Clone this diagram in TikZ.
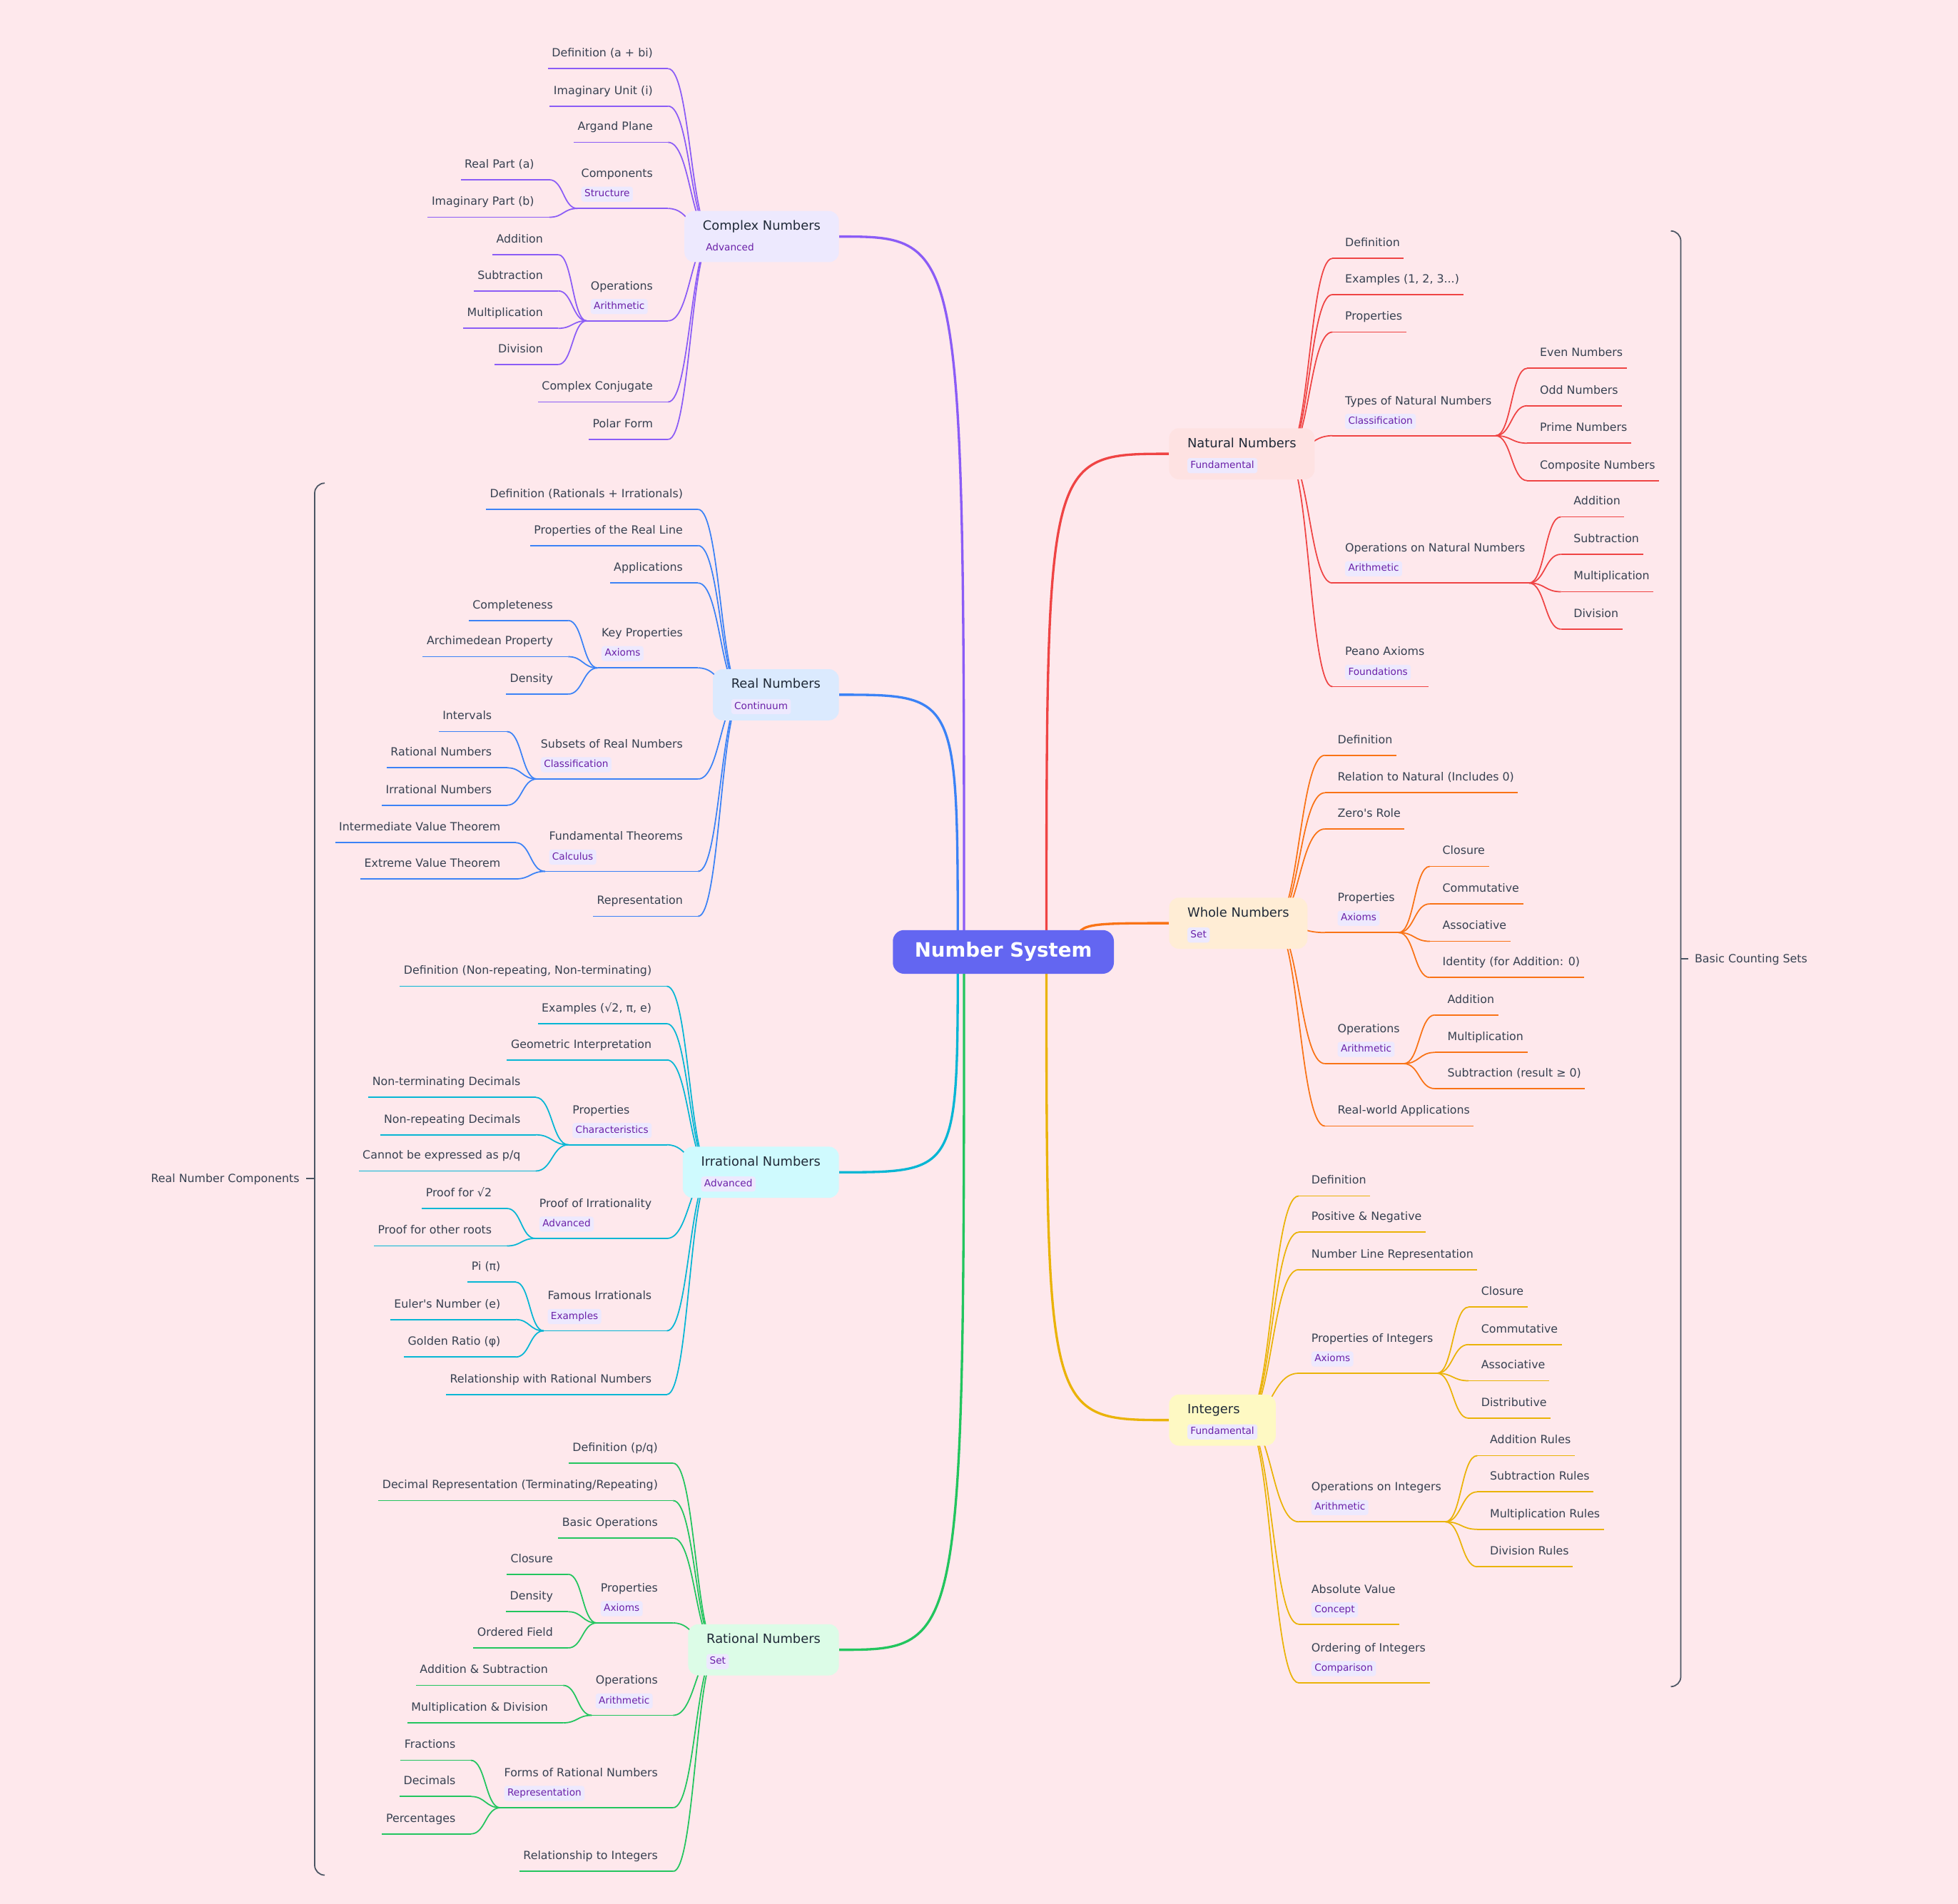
\documentclass[tikz,border=0pt]{standalone}
\usepackage{fontspec}
\setmainfont{DejaVu Sans}
\newfontfamily\dv{DejaVu Sans}
\usetikzlibrary{calc}
\pgfdeclarelayer{bgl}
\pgfdeclarelayer{links}
\pgfsetlayers{bgl,links,main}

\definecolor{bgc}{HTML}{FEE8EC}
\definecolor{rootc}{HTML}{6366F1}
\definecolor{cxc}{HTML}{8B5CF6}
\definecolor{rec}{HTML}{3B82F6}
\definecolor{irc}{HTML}{06B6D4}
\definecolor{rac}{HTML}{22C55E}
\definecolor{nac}{HTML}{EF4444}
\definecolor{whc}{HTML}{F97316}
\definecolor{itc}{HTML}{EAB308}
\definecolor{cxf}{HTML}{EDE9FE}
\definecolor{ref}{HTML}{DBEAFE}
\definecolor{irf}{HTML}{CFFAFE}
\definecolor{raf}{HTML}{DCFCE7}
\definecolor{naf}{HTML}{FEE2E2}
\definecolor{whf}{HTML}{FFEDD5}
\definecolor{itf}{HTML}{FEF9C3}
\definecolor{badgefill}{HTML}{EDE9FE}
\definecolor{badgetext}{HTML}{6B21A8}
\definecolor{leaftext}{HTML}{374151}
\definecolor{titletext}{HTML}{1F2937}
\definecolor{bracec}{HTML}{4B5563}

\newcommand\lfont{\dv\fontsize{9.05}{10}\selectfont}
\newcommand\bfont{\dv\fontsize{7.8}{9}\selectfont}
\newcommand\tfont{\dv\fontsize{10.2}{12}\selectfont}
\newcommand\rfont{\dv\bfseries\fontsize{15.8}{18}\selectfont}

\tikzset{
  leaf/.style={font=\lfont,text=leaftext,inner sep=0pt},
  ttl/.style={font=\lfont,text=leaftext,inner sep=0pt,anchor=base west,text height=7pt,text depth=2pt},
  bdg/.style={font=\bfont,text=badgetext,fill=badgefill,rounded corners=2pt,inner xsep=2.5pt,inner ysep=2.3pt,text height=5.8pt,text depth=1.7pt},
  ul/.style={line width=1pt},
  lk/.style={line width=1pt},
  rlk/.style={line width=1.9pt},
  brace/.style={line width=1pt,draw=bracec},
  bracelabel/.style={font=\lfont,text=leaftext,inner sep=0pt}
}

% right plain leaf: name, text-left x, underline y, text, colour
\newcommand\RL[5]{%
  \node[leaf,anchor=base west] (#1) at (#2,#3-9.5) {#4};
  \coordinate (#1-s) at (#2-10,#3);
  \coordinate (#1-e) at ([shift={(3,9.5)}]#1.base east);
  \draw[ul,#5] (#1-s) -- (#1-e);}
% left plain leaf: name, text-right x, underline y, text, colour
\newcommand\LL[5]{%
  \node[leaf,anchor=base east] (#1) at (#2,#3-9.5) {#4};
  \coordinate (#1-s) at (#2+12,#3);
  \coordinate (#1-e) at ([shift={(-3,9.5)}]#1.base west);
  \draw[ul,#5] (#1-s) -- (#1-e);}
% right node with badge: name, text-left x, underline y, title, badge, colour
\newcommand\RB[6]{%
  \matrix[anchor=south west,inner sep=0pt,row sep=5.4pt] (#1-m) at (#2,#3-5.2) {
    \node[ttl] (#1) {#4}; \\
    \node[bdg,anchor=base west] (#1-b) {#5}; \\
  };
  \coordinate (#1-s) at (#2-10,#3);
  \coordinate (#1-t) at (#1-m.east |- #1-s);
  \coordinate (#1-e) at ([xshift=3pt]#1-t);
  \draw[ul,#6] (#1-s) -- (#1-e);}
% left node with badge: name, block-right x, underline y, title, badge, colour
\newcommand\LB[6]{%
  \matrix[anchor=south east,inner sep=0pt,row sep=5.4pt] (#1-m) at (#2,#3-5.2) {
    \node[ttl] (#1) {#4}; \\
    \node[bdg,anchor=base west] (#1-b) {#5}; \\
  };
  \coordinate (#1-s) at (#2+12,#3);
  \coordinate (#1-t) at (#1-m.west |- #1-s);
  \coordinate (#1-e) at ([xshift=-3pt]#1-t);
  \draw[ul,#6] (#1-s) -- (#1-e);}
% first level box: name, anchor, x, y, title, badge, fill
\newcommand\LO[7]{%
  \matrix[anchor=#2,fill=#7,rounded corners=8pt,inner xsep=14.7pt,inner ysep=5pt,row sep=6.3pt] (#1) at (#3,#4) {
    \node[font=\tfont,text=titletext,inner sep=0pt,anchor=base west,text height=10.4pt,text depth=2.2pt] (#1-t) {#5}; \\
    \node[bdg,anchor=base west] (#1-b) {#6}; \\
  };}
% links
\newcommand\lk[3]{\draw[lk,#3] let \p1=(#1),\p2=(#2) in (\p1) .. controls ({(\x1+\x2)/2},\y1) and ({(\x1+\x2)/2},\y2) .. (\p2);}
\newcommand\rlk[3]{\draw[rlk,#3] let \p1=(#1),\p2=(#2) in (\p1) .. controls (\x1,\y2) and (\x1,\y2) .. (\p2);}

\begin{document}
\begin{tikzpicture}[x=1pt,y=-1pt]
\useasboundingbox (0,0) rectangle (1568,1525);
\begin{pgfonlayer}{bgl}
\fill[bgc] (0,0) rectangle (1568,1525);
\end{pgfonlayer}

% root
\node[fill=rootc,rounded corners=9pt,minimum width=177pt,minimum height=35pt,text=white,font=\rfont,inner sep=0pt] (root) at (803.5,762.5) {Number System};
\coordinate (o1) at (772,762);
\coordinate (o2) at (767,762);
\coordinate (o3) at (767,763);
\coordinate (o4) at (772,763);
\coordinate (o5) at (838,762);
\coordinate (o6) at (862,762);
\coordinate (o7) at (838,763);

% first level boxes
\LO{cx}{east}{672}{189.5}{Complex Numbers}{Advanced}{cxf}
\LO{re}{east}{672}{556.5}{Real Numbers}{Continuum}{ref}
\LO{ir}{east}{672}{939}{Irrational Numbers}{Advanced}{irf}
\LO{ra}{east}{672}{1321.5}{Rational Numbers}{Set}{raf}
\LO{na}{west}{936}{363.5}{Natural Numbers}{Fundamental}{naf}
\LO{wh}{west}{936}{739.5}{Whole Numbers}{Set}{whf}
\LO{it}{west}{936}{1137.5}{Integers}{Fundamental\hspace{3pt}}{itf}
\coordinate (cxO) at (571,189.5);
\coordinate (reO) at (595,556.5);
\coordinate (irO) at (570,939);
\coordinate (raO) at (575,1321.5);
\coordinate (naO) at (1030,363.5);
\coordinate (whO) at (1020,739.5);
\coordinate (itO) at (997,1137.5);

% Natural numbers
\RL{n1}{1077}{207}{Definition}{nac}
\RL{n2}{1077}{236}{Examples (1, 2, 3...)}{nac}
\RL{n3}{1077}{266}{Properties}{nac}
\RB{n4}{1077}{349}{Types of Natural Numbers}{Classification}{nac}
\RL{n4a}{1233}{295}{Even Numbers}{nac}
\RL{n4b}{1233}{325}{Odd Numbers}{nac}
\RL{n4c}{1233}{355}{Prime Numbers}{nac}
\RL{n4d}{1233}{385}{Composite Numbers}{nac}
\RB{n5}{1077}{467}{Operations on Natural Numbers}{Arithmetic}{nac}
\RL{n5a}{1260}{414}{Addition}{nac}
\RL{n5b}{1260}{444}{Subtraction}{nac}
\RL{n5c}{1260}{474}{Multiplication}{nac}
\RL{n5d}{1260}{504}{Division}{nac}
\RB{n6}{1077}{550}{Peano Axioms}{Foundations}{nac}

% Whole numbers
\RL{w1}{1071}{605}{Definition}{whc}
\RL{w2}{1071}{635}{Relation to Natural (Includes 0)}{whc}
\RL{w3}{1071}{664}{Zero's Role}{whc}
\RB{w4}{1071}{747}{Properties}{Axioms}{whc}
\RL{w4a}{1155}{694}{Closure}{whc}
\RL{w4b}{1155}{724}{Commutative}{whc}
\RL{w4c}{1155}{754}{Associative}{whc}
\RL{w4d}{1155}{783}{Identity (for Addition: 0)}{whc}
\RB{w5}{1071}{852}{Operations}{Arithmetic}{whc}
\RL{w5a}{1159}{813}{Addition}{whc}
\RL{w5b}{1159}{843}{Multiplication}{whc}
\RL{w5c}{1159}{872}{Subtraction (result ≥ 0)}{whc}
\RL{w6}{1071}{902}{Real-world Applications}{whc}

% Integers
\RL{i1}{1050}{958}{Definition}{itc}
\RL{i2}{1050}{987}{Positive \& Negative}{itc}
\RL{i3}{1050}{1017}{Number Line Representation}{itc}
\RB{i4}{1050}{1100}{Properties of Integers}{Axioms}{itc}
\RL{i4a}{1186}{1047}{Closure}{itc}
\RL{i4b}{1186}{1077}{Commutative}{itc}
\RL{i4c}{1186}{1106}{Associative}{itc}
\RL{i4d}{1186}{1136}{Distributive}{itc}
\RB{i5}{1050}{1219}{Operations on Integers}{Arithmetic}{itc}
\RL{i5a}{1193}{1166}{Addition Rules}{itc}
\RL{i5b}{1193}{1195}{Subtraction Rules}{itc}
\RL{i5c}{1193}{1225}{Multiplication Rules}{itc}
\RL{i5d}{1193}{1255}{Division Rules}{itc}
\RB{i6}{1050}{1301}{Absolute Value}{Concept}{itc}
\RB{i7}{1050}{1348}{Ordering of Integers}{Comparison}{itc}

% Complex numbers
\LL{c1}{523}{55}{Definition (a + bi)}{cxc}
\LL{c2}{523}{85}{Imaginary Unit (i)}{cxc}
\LL{c3}{523}{114}{Argand Plane}{cxc}
\LB{c4}{523}{167}{Components}{Structure}{cxc}
\LL{c4a}{428}{144}{Real Part (a)}{cxc}
\LL{c4b}{428}{174}{Imaginary Part (b)}{cxc}
\LB{c5}{523}{257}{Operations}{Arithmetic}{cxc}
\LL{c5a}{435}{204}{Addition}{cxc}
\LL{c5b}{435}{233}{Subtraction}{cxc}
\LL{c5c}{435}{263}{Multiplication}{cxc}
\LL{c5d}{435}{292}{Division}{cxc}
\LL{c6}{523}{322}{Complex Conjugate}{cxc}
\LL{c7}{523}{352}{Polar Form}{cxc}

% Real numbers
\LL{r1}{547}{408}{Definition (Rationals + Irrationals)}{rec}
\LL{r2}{547}{437}{Properties of the Real Line}{rec}
\LL{r3}{547}{467}{Applications}{rec}
\LB{r4}{547}{535}{Key Properties}{Axioms}{rec}
\LL{r4a}{443}{497}{Completeness}{rec}
\LL{r4b}{443}{526}{Archimedean Property}{rec}
\LL{r4c}{443}{556}{Density}{rec}
\LB{r5}{547}{624}{Subsets of Real Numbers}{Classification}{rec}
\LL{r5a}{394}{586}{Intervals}{rec}
\LL{r5b}{394}{615}{Rational Numbers}{rec}
\LL{r5c}{394}{645}{Irrational Numbers}{rec}
\LB{r6}{547}{698}{Fundamental Theorems}{Calculus}{rec}
\LL{r6a}{401}{675}{Intermediate Value Theorem}{rec}
\LL{r6b}{401}{704}{Extreme Value Theorem}{rec}
\LL{r7}{547}{734}{Representation}{rec}

% Irrational numbers
\LL{q1}{522}{790}{Definition (Non-repeating, Non-terminating)}{irc}
\LL{q2}{522}{820}{Examples (√2, π, e)}{irc}
\LL{q3}{522}{849}{Geometric Interpretation}{irc}
\LB{q4}{522}{917}{Properties}{Characteristics}{irc}
\LL{q4a}{417}{879}{Non-terminating Decimals}{irc}
\LL{q4b}{417}{909}{Non-repeating Decimals}{irc}
\LL{q4c}{417}{938}{Cannot be expressed as p/q}{irc}
\LB{q5}{522}{992}{Proof of Irrationality}{Advanced}{irc}
\LL{q5a}{394}{968}{Proof for √2}{irc}
\LL{q5b}{394}{998}{Proof for other roots}{irc}
\LB{q6}{522}{1066}{Famous Irrationals}{Examples}{irc}
\LL{q6a}{401}{1027}{Pi (π)}{irc}
\LL{q6b}{401}{1057}{Euler's Number (e)}{irc}
\LL{q6c}{401}{1087}{Golden Ratio (φ)}{irc}
\LL{q7}{522}{1117}{Relationship with Rational Numbers}{irc}

% Rational numbers
\LL{p1}{527}{1172}{Definition (p/q)}{rac}
\LL{p2}{527}{1202}{Decimal Representation (Terminating/Repeating)}{rac}
\LL{p3}{527}{1232}{Basic Operations}{rac}
\LB{p4}{527}{1300}{Properties}{Axioms}{rac}
\LL{p4a}{443}{1261}{Closure}{rac}
\LL{p4b}{443}{1291}{Density}{rac}
\LL{p4c}{443}{1320}{Ordered Field}{rac}
\LB{p5}{527}{1374}{Operations}{Arithmetic}{rac}
\LL{p5a}{439}{1350}{Addition \& Subtraction}{rac}
\LL{p5b}{439}{1380}{Multiplication \& Division}{rac}
\LB{p6}{527}{1448}{Forms of Rational Numbers}{Representation}{rac}
\LL{p6a}{365}{1410}{Fractions}{rac}
\LL{p6b}{365}{1439}{Decimals}{rac}
\LL{p6c}{365}{1469}{Percentages}{rac}
\LL{p7}{527}{1499}{Relationship to Integers}{rac}

% braces
\coordinate (bR1) at (1338,185);
\coordinate (bR2) at (1346,193);
\coordinate (bR3) at (1346,1343);
\coordinate (bR4) at (1338,1351);
\coordinate (bRm) at (1346,768);
\coordinate (bRt) at (1352,768);
\draw[brace] (bR1) to[out=0,in=90] (bR2) -- (bR3) to[out=-90,in=0] (bR4);
\draw[brace] (bRm) -- (bRt);
\node[bracelabel,anchor=base west] (lblR) at (1357,771.2) {Basic Counting Sets};
\coordinate (bL1) at (260,387);
\coordinate (bL2) at (252,395);
\coordinate (bL3) at (252,1494);
\coordinate (bL4) at (260,1502);
\coordinate (bLm) at (252,944);
\coordinate (bLt) at (245,944);
\draw[brace] (bL1) to[out=180,in=90] (bL2) -- (bL3) to[out=-90,in=180] (bL4);
\draw[brace] (bLm) -- (bLt);
\node[bracelabel,anchor=base east] (lblL) at (240,947.2) {Real Number Components};

\begin{pgfonlayer}{links}
% root links
\rlk{o1}{cx.east}{cxc}
\rlk{o2}{re.east}{rec}
\rlk{o3}{ir.east}{irc}
\rlk{o4}{ra.east}{rac}
\rlk{o5}{na.west}{nac}
\rlk{o6}{wh.west}{whc}
\rlk{o7}{it.west}{itc}
% first level to children
\foreach \c in {n1,n2,n3,n4,n5,n6} {\lk{naO}{\c-s}{nac}}
\foreach \c in {w1,w2,w3,w4,w5,w6} {\lk{whO}{\c-s}{whc}}
\foreach \c in {i1,i2,i3,i4,i5,i6,i7} {\lk{itO}{\c-s}{itc}}
\foreach \c in {c1,c2,c3,c4,c5,c6,c7} {\lk{cxO}{\c-s}{cxc}}
\foreach \c in {r1,r2,r3,r4,r5,r6,r7} {\lk{reO}{\c-s}{rec}}
\foreach \c in {q1,q2,q3,q4,q5,q6,q7} {\lk{irO}{\c-s}{irc}}
\foreach \c in {p1,p2,p3,p4,p5,p6,p7} {\lk{raO}{\c-s}{rac}}
% second level
\foreach \c in {n4a,n4b,n4c,n4d} {\lk{n4-e}{\c-s}{nac}}
\foreach \c in {n5a,n5b,n5c,n5d} {\lk{n5-e}{\c-s}{nac}}
\foreach \c in {w4a,w4b,w4c,w4d} {\lk{w4-e}{\c-s}{whc}}
\foreach \c in {w5a,w5b,w5c} {\lk{w5-e}{\c-s}{whc}}
\foreach \c in {i4a,i4b,i4c,i4d} {\lk{i4-e}{\c-s}{itc}}
\foreach \c in {i5a,i5b,i5c,i5d} {\lk{i5-e}{\c-s}{itc}}
\foreach \c in {c4a,c4b} {\lk{c4-e}{\c-s}{cxc}}
\foreach \c in {c5a,c5b,c5c,c5d} {\lk{c5-e}{\c-s}{cxc}}
\foreach \c in {r4a,r4b,r4c} {\lk{r4-e}{\c-s}{rec}}
\foreach \c in {r5a,r5b,r5c} {\lk{r5-e}{\c-s}{rec}}
\foreach \c in {r6a,r6b} {\lk{r6-e}{\c-s}{rec}}
\foreach \c in {q4a,q4b,q4c} {\lk{q4-e}{\c-s}{irc}}
\foreach \c in {q5a,q5b} {\lk{q5-e}{\c-s}{irc}}
\foreach \c in {q6a,q6b,q6c} {\lk{q6-e}{\c-s}{irc}}
\foreach \c in {p4a,p4b,p4c} {\lk{p4-e}{\c-s}{rac}}
\foreach \c in {p5a,p5b} {\lk{p5-e}{\c-s}{rac}}
\foreach \c in {p6a,p6b,p6c} {\lk{p6-e}{\c-s}{rac}}
\end{pgfonlayer}
\end{tikzpicture}
\end{document}
